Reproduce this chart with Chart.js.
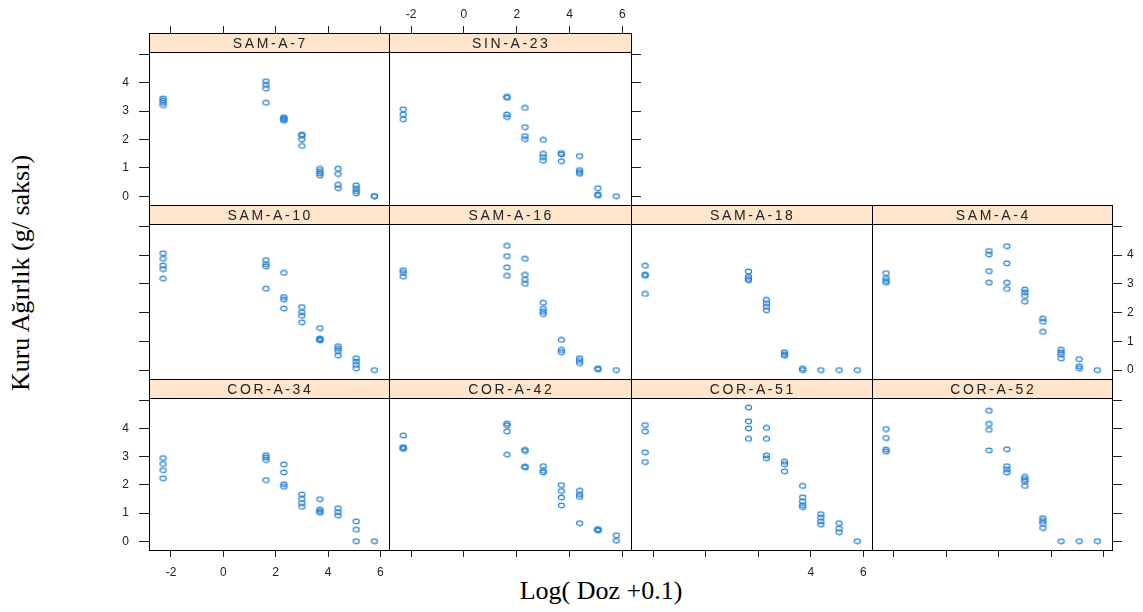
<!DOCTYPE html>
<html><head><meta charset="utf-8">
<script src="https://cdn.jsdelivr.net/npm/chart.js@4"></script>
<style>
html,body{margin:0;padding:0;background:#fff;}
body{width:1143px;height:612px;position:relative;overflow:hidden;}
canvas.p{position:absolute;}
.t{position:absolute;font-family:"Liberation Serif","Times New Roman",serif;font-size:26px;line-height:26px;color:#000;white-space:nowrap;}
</style></head><body>
<div class="t" id="xt">Log( Doz +0.1)</div>
<div class="t" id="yt">Kuru Ağırlık (g/ saksı)</div>
<script>
// ---------- data ----------
const logDose = [-2.303, 1.629, 2.313, 3.001, 3.691, 4.383, 5.076, 5.769];
const xTicks = [-2, 0, 2, 4, 6];
const xTickLabels = ['-2', '0', '2', '4', '6'];
const xTickLabelsPartial = ['', '', '', '4', '6'];
const yTicks = [0, 1, 2, 3, 4, 5];
const yTickLabels = ['0', '1', '2', '3', '4', ''];
const panelNames = ['SAM-A-7','SIN-A-23','SAM-A-10','SAM-A-16','SAM-A-18','SAM-A-4','COR-A-34','COR-A-42','COR-A-51','COR-A-52'];

const SAM_A_7 = [[3.44,3.37,3.29,3.21],[4.05,3.92,3.79,3.29],[2.78,2.74,2.70,2.66],[2.17,2.13,2.00,1.77],[0.96,0.88,0.80,0.73],[0.97,0.78,0.40,0.28],[0.38,0.28,0.18,0.10],[0,0]];
const SIN_A_23 = [[3.06,2.88,2.71],[3.50,3.47,2.88,2.79],[3.11,2.43,2.12,2.01],[1.98,1.49,1.38,1.25],[1.52,1.47,1.23],[1.41,0.92,0.85,0.79],[0.28,0.06,0.02],[0]];
const SAM_A_10 = [[4.06,3.87,3.64,3.51,3.18],[3.82,3.68,3.60,2.83],[3.38,2.54,2.45,2.14],[2.19,2.01,1.89,1.66],[1.46,1.10,1.06,1.03],[0.83,0.74,0.66,0.51],[0.41,0.30,0.18,0.06],[0]];
const SAM_A_16 = [[3.47,3.38,3.25],[4.32,3.96,3.57,3.28],[3.87,3.31,3.14,3.00],[2.34,2.13,2.03,1.95],[1.05,0.70,0.62],[0.41,0.32,0.24],[0.06,0.02],[0]];
const SAM_A_18 = [[3.63,3.32,3.28,2.65],[3.43,3.25,3.17,3.12],[2.44,2.32,2.20,2.08],[0.62,0.55,0.50],[0.05,0.0],[0],[0],[0]];
const SAM_A_4 = [[3.37,3.20,3.10,3.04],[4.14,4.02,3.44,3.04],[4.31,3.71,3.04,2.82],[2.80,2.70,2.58,2.38],[1.79,1.68,1.33],[0.71,0.62,0.54,0.40],[0.38,0.13,0.05],[0]];
const COR_A_34 = [[2.95,2.74,2.52,2.23],[3.05,2.97,2.88,2.17],[2.72,2.44,2.02,1.93],[1.66,1.50,1.35,1.22],[1.49,1.12,1.06,1.01],[1.17,1.03,0.91],[0.70,0.41,0.0],[0]];
const COR_A_42 = [[3.75,3.34,3.30,3.28],[4.17,4.11,3.89,3.07],[3.24,3.20,2.65,2.61],[2.66,2.50,2.44],[1.99,1.78,1.55,1.27],[1.79,1.65,1.57,0.64],[0.43,0.40,0.38],[0.21,0.02]];
const COR_A_51 = [[4.12,3.89,3.15,2.81],[4.74,4.25,4.00,3.63],[4.02,3.63,3.04,2.94],[2.82,2.73,2.48],[1.96,1.56,1.41,1.28,1.21],[0.96,0.84,0.70,0.59],[0.64,0.45,0.32],[0]];
const COR_A_52 = [[3.98,3.66,3.25,3.18],[4.63,4.16,3.95,3.22],[3.26,2.66,2.55,2.44],[2.28,2.20,2.12,1.96],[0.82,0.72,0.64,0.47],[0],[0],[0]];

const panelValues = [SAM_A_7, SIN_A_23, SAM_A_10, SAM_A_16, SAM_A_18, SAM_A_4, COR_A_34, COR_A_42, COR_A_51, COR_A_52];

// ---------- layout ----------
const colLefts = [149, 389, 631, 872];
const colRights = [389, 631, 872, 1112];
const rowTops = [33, 205, 379];
const rowBottoms = [205, 379, 550];
const panelCells = [[0,0],[0,1],[1,0],[1,1],[1,2],[1,3],[2,0],[2,1],[2,2],[2,3]];
const STRIP_H = 19;
const M = 50;
const X_MIN = -2.84, X_MAX = 6.33;
const Y_MIN = -0.31, Y_MAX = 5.08;
const PT_COLOR = '#2a84d6';
const TICK_FONT = {family: '"Liberation Sans", Arial, sans-serif', size: 12};

// titles
const xt = document.getElementById('xt');
xt.style.left = '601px'; xt.style.top = '578px'; xt.style.transform = 'translateX(-50%)';
const yt = document.getElementById('yt');
yt.style.left = '21px'; yt.style.top = '273px'; yt.style.transform = 'translate(-50%,-50%) rotate(-90deg)';

// point symbol: small open ellipse
const sym = document.createElement('canvas');
sym.width = 9; sym.height = 7;
(function(){
  const c = sym.getContext('2d');
  c.strokeStyle = PT_COLOR; c.lineWidth = 1.2;
  c.beginPath(); c.ellipse(4.5, 3.5, 3.1, 2.3, 0, 0, Math.PI*2); c.stroke();
})();

const stripPlugin = {
  id: 'strip',
  beforeDraw(chart, args, opts) {
    const {ctx, chartArea: a} = chart;
    ctx.save();
    ctx.fillStyle = '#ffe5cc';
    ctx.fillRect(a.left, a.top, a.right - a.left, STRIP_H);
    ctx.strokeStyle = '#000'; ctx.lineWidth = 1;
    ctx.beginPath();
    ctx.moveTo(a.left, Math.round(a.top + STRIP_H) + 0.5);
    ctx.lineTo(a.right, Math.round(a.top + STRIP_H) + 0.5);
    ctx.stroke();
    ctx.fillStyle = '#222';
    ctx.font = '14px "Liberation Sans", Arial, sans-serif';
    ctx.letterSpacing = '2.6px';
    ctx.textAlign = 'center'; ctx.textBaseline = 'middle';
    ctx.fillText(opts.label, (a.left + a.right) / 2 + 1.3, a.top + STRIP_H / 2 + 1.5);
    ctx.restore();
  }
};

function axisX(position, showTicks, labels, pad) {
  return {
    type: 'linear', position, min: X_MIN, max: X_MAX,
    afterBuildTicks: s => { s.ticks = xTicks.map(v => ({value: v})); },
    afterFit: s => { s.height = M; },
    grid: {display: showTicks, drawOnChartArea: false, drawTicks: true, tickLength: 7, tickColor: '#222', color: '#222', lineWidth: 1},
    border: {display: true, color: '#000', width: 1},
    ticks: {display: !!labels, autoSkip: false, maxRotation: 0, padding: pad, color: '#222', font: TICK_FONT,
      callback: (v, i) => labels ? labels[i] : ''}
  };
}
function axisY(position, showTicks, labels, yMax, pad) {
  return {
    type: 'linear', position, min: Y_MIN, max: yMax,
    afterBuildTicks: s => { s.ticks = yTicks.map(v => ({value: v})); },
    afterFit: s => { s.width = M; },
    grid: {display: showTicks, drawOnChartArea: false, drawTicks: true, tickLength: 10, tickColor: '#222', color: '#222', lineWidth: 1},
    border: {display: true, color: '#000', width: 1},
    ticks: {display: !!labels, autoSkip: false, padding: pad, color: '#222', font: TICK_FONT,
      callback: (v, i) => labels ? labels[i] : ''}
  };
}

panelNames.forEach((name, k) => {
  const [r, c] = panelCells[k];
  const L = colLefts[c], R = colRights[c], T = rowTops[r], B = rowBottoms[r];
  const cv = document.createElement('canvas');
  cv.className = 'p';
  cv.width = (R - L) + 2 * M; cv.height = (B - T) + 2 * M;
  cv.style.left = (L - M) + 'px'; cv.style.top = (T - M) + 'px';
  document.body.appendChild(cv);

  const panelH = (B - T) - STRIP_H;
  const unit = panelH / (Y_MAX - Y_MIN);
  const yMaxChart = Y_MAX + STRIP_H / unit;

  const pts = [];
  panelValues[k].forEach((vals, i) => vals.forEach(v => pts.push({x: logDose[i], y: v})));

  const bottomTicks = r === 2;
  const bottomLabels = r === 2 ? (c === 0 ? xTickLabels : (c === 2 ? xTickLabelsPartial : null)) : null;
  const topTicks = r === 0;
  const topLabels = (r === 0 && c === 1) ? xTickLabels : null;
  const leftTicks = c === 0;
  const leftLabels = (c === 0 && r !== 1) ? yTickLabels : null;
  const rightTicks = (r === 0 && c === 1) || c === 3;
  const rightLabels = (r === 1 && c === 3) ? yTickLabels : null;

  new Chart(cv, {
    type: 'scatter',
    data: {datasets: [{data: pts, pointStyle: sym, radius: 3, hoverRadius: 3, borderColor: PT_COLOR}]},
    options: {
      responsive: false, animation: false, devicePixelRatio: 1,
      layout: {padding: 0},
      plugins: {legend: {display: false}, tooltip: {enabled: false}, strip: {label: name}},
      scales: {
        x: axisX('bottom', bottomTicks, bottomLabels, 8),
        x2: axisX('top', topTicks, topLabels, 4),
        y: axisY('left', leftTicks, leftLabels, yMaxChart, 10),
        y2: axisY('right', rightTicks, rightLabels, yMaxChart, 5)
      }
    },
    plugins: [stripPlugin]
  });
});
</script>
</body></html>
